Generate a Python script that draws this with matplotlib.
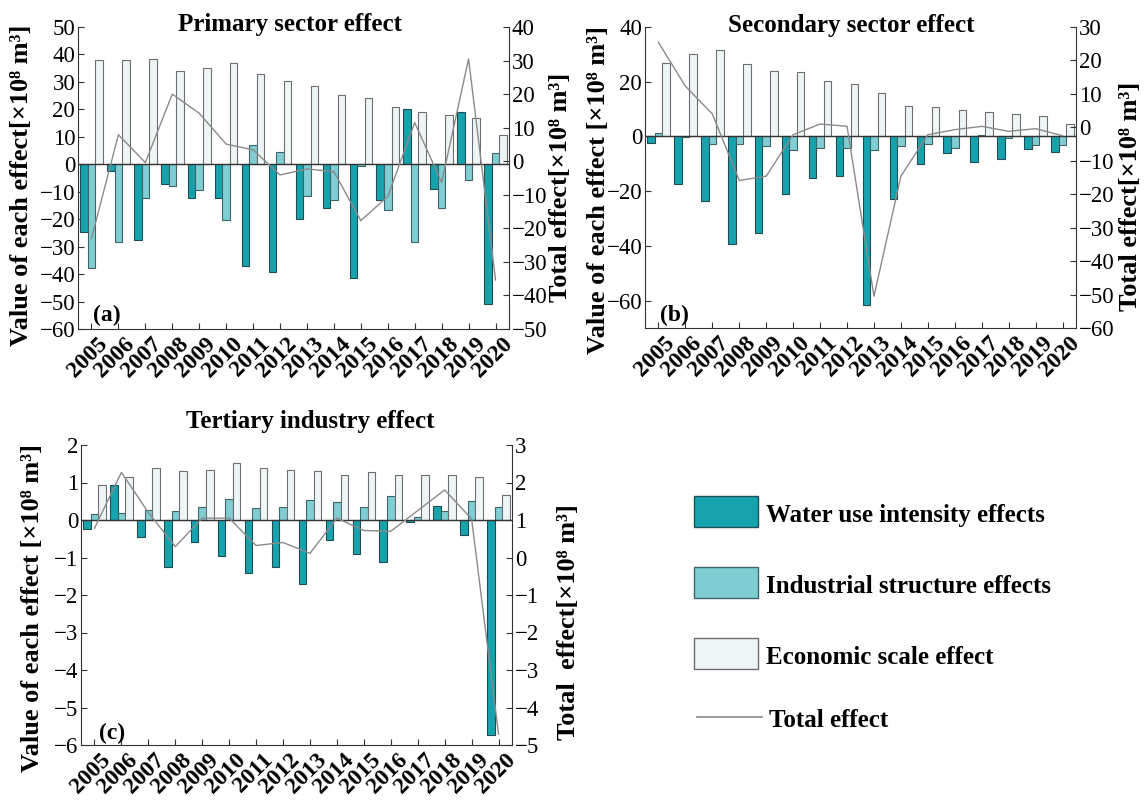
import matplotlib.pyplot as plt
import matplotlib.transforms as mtransforms
import numpy as np
from matplotlib.patches import Rectangle

plt.rcParams["font.family"] = ["Liberation Serif", "DejaVu Serif"]

years = ["2005", "2006", "2007", "2008", "2009", "2010", "2011", "2012",
         "2013", "2014", "2015", "2016", "2017", "2018", "2019", "2020"]

# primary sector
water_a = [-24.5, -2.6, -27.5, -7.1, -12.2, -12.4, -37.2, -39.3,
           -19.8, -16.1, -41.5, -12.9, 20.0, -9.0, 19.1, -50.9]
ind_a = [-37.6, -28.3, -12.4, -7.8, -9.5, -20.3, 7.0, 4.4,
         -11.7, -12.9, -0.7, -16.5, -28.3, -16.1, -5.8, 4.1]
econ_a = [38.0, 38.0, 38.4, 33.9, 35.2, 37.0, 32.7, 30.3,
          28.5, 25.1, 24.0, 20.9, 19.2, 18.1, 16.8, 10.6]
total_a = [-23.0, 7.9, -0.4, 20.0, 14.3, 5.1, 3.4, -4.1,
           -2.3, -3.1, -17.7, -10.5, 11.5, -6.3, 30.5, -35.4]

# secondary sector
water_b = [-2.3, -17.3, -23.6, -39.4, -35.2, -21.2, -15.1, -14.5,
           -61.7, -23.0, -10.0, -6.2, -9.2, -8.4, -4.5, -5.7]
ind_b = [1.1, -0.3, -2.9, -2.9, -3.6, -4.9, -4.1, -4.1,
         -5.0, -3.5, -2.7, -4.1, 0.6, -0.7, -3.3, -3.0]
econ_b = [26.9, 30.2, 31.5, 26.3, 23.8, 23.5, 20.4, 19.2,
          15.7, 11.3, 10.8, 9.5, 9.0, 8.3, 7.3, 4.5]
total_b = [25.4, 12.3, 4.0, -15.9, -14.6, -2.2, 1.0, 0.3,
           -50.5, -14.6, -2.2, -0.7, 0.3, -1.2, -0.4, -2.5]

# tertiary industry
water_c = [-0.24, 0.93, -0.44, -1.26, -0.58, -0.95, -1.40, -1.24,
           -1.71, -0.53, -0.91, -1.11, -0.06, 0.38, -0.40, -5.72]
ind_c = [0.16, 0.19, 0.28, 0.25, 0.35, 0.55, 0.32, 0.34,
         0.53, 0.49, 0.36, 0.63, 0.09, 0.25, 0.50, 0.36]
econ_c = [0.93, 1.16, 1.40, 1.30, 1.33, 1.51, 1.40, 1.34,
          1.30, 1.21, 1.27, 1.21, 1.21, 1.21, 1.16, 0.68]
total_c = [0.78, 2.27, 1.20, 0.29, 1.05, 1.05, 0.32, 0.40,
           0.11, 1.05, 0.72, 0.70, 1.25, 1.80, 1.03, -4.71]

legend_labels = ["Water use intensity effects", "Industrial structure effects",
                 "Economic scale effect", "Total effect"]

C_WATER, E_WATER = "#17a3ae", "#1f4d52"
C_IND, E_IND = "#80cdd4", "#3e6468"
C_ECON, E_ECON = "#eef5f7", "#6e6e6e"
C_LINE = "#8a8a8a"
C_AX = "#333333"

W, H = 1144, 800
fig = plt.figure(figsize=(W / 100, H / 100), dpi=100)


def px_rect(l, t, r, b):
    return [l / W, 1 - b / H, (r - l) / W, (b - t) / H]


def ftext(x, y, s, **kw):
    fig.text(x / W, 1 - y / H, s, **kw)


def panel(box, water, ind, econ, total, ylim, yticks, y2lim, y2ticks):
    ax = fig.add_axes(px_rect(*box))
    x = np.arange(len(years))
    w = 0.28
    ax.bar(x - w, water, w, color=C_WATER, edgecolor=E_WATER, lw=0.8, zorder=2)
    ax.bar(x, ind, w, color=C_IND, edgecolor=E_IND, lw=0.8, zorder=2)
    ax.bar(x + w, econ, w, color=C_ECON, edgecolor=E_ECON, lw=0.8, zorder=2)
    ax.axhline(0, color=C_AX, lw=1.0, zorder=3)
    ax.set_xlim(-0.5, 15.5)
    ax.set_ylim(*ylim)
    ax.set_yticks(yticks)
    ax.tick_params(direction="in", length=4, labelsize=16.5, pad=2, color=C_AX)
    ax.tick_params(axis="x", pad=3)
    ax.set_xticks(x)
    ax.set_xticklabels(years, rotation=45, ha="right", va="top",
                       rotation_mode="anchor", fontweight="bold", fontsize=17)
    # nudge the slanted year labels a little to the right, as in the original
    shift = mtransforms.ScaledTranslation(0.06, 0, fig.dpi_scale_trans)
    for lab in ax.get_xticklabels():
        lab.set_transform(lab.get_transform() + shift)
    for s in ["top", "right"]:
        ax.spines[s].set_visible(False)
    for s in ["left", "bottom"]:
        ax.spines[s].set_color(C_AX)

    ax2 = ax.twinx()
    ax2.plot(x, total, color=C_LINE, lw=1.0)
    ax2.set_ylim(*y2lim)
    ax2.set_yticks(y2ticks)
    ax2.tick_params(direction="in", length=4, labelsize=16.5, pad=2, color=C_AX)
    for s in ["top", "left", "bottom"]:
        ax2.spines[s].set_visible(False)
    ax2.spines["right"].set_color(C_AX)
    return ax, ax2


panel((78, 27, 509, 329), water_a, ind_a, econ_a, total_a,
      (-60, 50), np.arange(-60, 51, 10), (-50, 40), np.arange(-50, 41, 10))
panel((645, 27, 1076, 328), water_b, ind_b, econ_b, total_b,
      (-70, 40), np.arange(-60, 41, 20), (-60, 30), np.arange(-60, 31, 10))
panel((81, 445, 512, 745), water_c, ind_c, econ_c, total_c,
      (-6, 2), np.arange(-6, 3, 1), (-5, 3), np.arange(-5, 4, 1))

bold = dict(fontweight="bold")
ftext(290, 31, "Primary sector effect", ha="center", va="baseline", fontsize=18, **bold)
ftext(851, 32, "Secondary sector effect", ha="center", va="baseline", fontsize=18, **bold)
ftext(310, 428, "Tertiary industry effect", ha="center", va="baseline", fontsize=18, **bold)

ftext(107, 315, "(a)", ha="center", va="center", fontsize=17, **bold)
ftext(674, 315, "(b)", ha="center", va="center", fontsize=17, **bold)
ftext(112, 733, "(c)", ha="center", va="center", fontsize=17, **bold)

lab_kw = dict(ha="center", va="center", rotation=90, fontsize=19, **bold)
ftext(22, 185, "Value of each effect[×10⁸ m³]", **lab_kw)
ftext(561, 187, "Total effect[×10⁸ m³]", **lab_kw)
ftext(598, 190, "Value of each effect [×10⁸ m³]", **lab_kw)
ftext(1130, 196, "Total effect[×10⁸ m³]", **lab_kw)
ftext(33, 608, "Value of each effect [×10⁸ m³]", **lab_kw)
ftext(568, 622, "Total  effect[×10⁸ m³]", **lab_kw)

# legend drawn by hand in pixel space
lax = fig.add_axes([0, 0, 1, 1])
lax.set_xlim(0, W)
lax.set_ylim(H, 0)
lax.axis("off")
styles = [(C_WATER, E_WATER), (C_IND, E_IND), (C_ECON, E_ECON)]
for i, (fc, ec) in enumerate(styles):
    top = 496 + 71 * i
    lax.add_patch(Rectangle((694, top), 64, 31, facecolor=fc, edgecolor=ec, lw=1))
    lax.text(766, top + 26, legend_labels[i], va="baseline", fontsize=18, **bold)
lax.plot([697, 762], [717, 717], color=C_LINE, lw=1.2)
lax.text(769, 727, legend_labels[3], va="baseline", fontsize=18, **bold)

fig.savefig("out.png", dpi=100)
